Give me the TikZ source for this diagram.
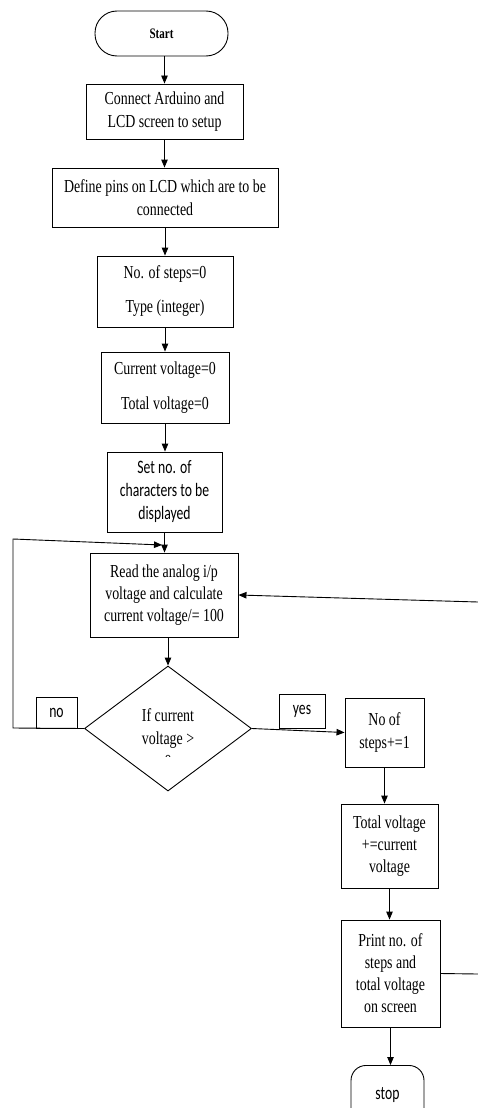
\documentclass[tikz,border=0pt]{standalone}
\usepackage{fontspec}
\setmainfont{Liberation Serif}[FakeStretch=0.76]
\newfontfamily\calfont{Carlito}[FakeStretch=0.72]
\usetikzlibrary{shapes.geometric,arrows.meta}
\tikzset{
  box/.style={draw, line width=0.9pt, inner sep=0pt, align=center, font=\fontsize{18.3}{23}\selectfont},
  boxtight/.style={box, font=\fontsize{18.3}{22}\selectfont},
  calbox/.style={box, font=\calfont\fontsize{19}{23}\selectfont},
  term/.style={draw, line width=0.9pt, inner sep=0pt, rounded corners=22pt, font=\bfseries\fontsize{14.5}{16}\selectfont},
  calterm/.style={draw, line width=0.9pt, inner sep=0pt, rounded corners=15pt, font=\calfont\fontsize{19}{23}\selectfont},
  decision/.style={draw, diamond, line width=0.9pt, inner sep=0pt},
  plaintext/.style={inner sep=0pt, align=center, font=\fontsize{18.3}{23}\selectfont},
  arr/.style={-{Triangle[length=8pt,width=6.5pt]}, line width=0.9pt},
  ln/.style={line width=0.9pt}
}
\begin{document}
\begin{tikzpicture}[x=1pt,y=-1pt]
\useasboundingbox (0,0) rectangle (478,1108);
\clip (0,0) rectangle (478,1108);
\fill[white] (0,0) rectangle (478,1108);

\node[term, minimum width=133pt, minimum height=45pt] (start) at (161.5,33.5) {Start};
\node[box, minimum width=157pt, minimum height=55pt] (connect) at (164.5,111.5) {Connect Arduino and\\LCD screen to setup};
\node[box, minimum width=226pt, minimum height=59pt] (define) at (165,197.5) {Define pins on LCD which are to be\\connected};
\node[box, minimum width=136pt, minimum height=71pt] (steps) at (165,291.5) {No. of steps=0\\[11pt]Type (integer)};
\node[box, minimum width=128pt, minimum height=71pt] (cv) at (165,387.5) {Current voltage=0\\[12pt]Total voltage=0};
\node[calbox, minimum width=115pt, minimum height=80pt] (setno) at (164.5,492) {Set no. of\\characters to be\\displayed};
\node[boxtight, minimum width=148pt, minimum height=84pt] (read) at (164,595) {Read the analog i/p\\voltage and calculate\\current voltage/= 100};
\node[decision, minimum width=167pt, minimum height=125pt] (dec) at (168,728.5) {};
\begin{scope}
  \clip (95,680) rectangle (245,756);
  \node[plaintext] (dectext) at (168,738) {If current\\voltage >\\0};
\end{scope}
\node[calbox, minimum width=41pt, minimum height=31pt] (no) at (56.5,712.5) {no};
\node[calbox, minimum width=46pt, minimum height=34pt] (yes) at (302,711) {yes};
\node[box, minimum width=79pt, minimum height=69pt] (nsteps) at (384.5,732.5) {No of\\steps+=1};
\node[boxtight, minimum width=97pt, minimum height=84pt] (total) at (389.5,846) {Total voltage\\+=current\\voltage};
\node[boxtight, minimum width=99pt, minimum height=107pt] (print) at (390.5,973.5) {Print no. of\\steps and\\total voltage\\on screen};
\node[calterm, minimum width=73pt, minimum height=62pt, anchor=north] (stop) at (387.5,1065) {\raisebox{6pt}{stop}};

\coordinate (loopl) at (13,728);
\coordinate (loopt) at (13,539);
\coordinate (loopin) at (162,545);
\coordinate (redge1) at (478,974);
\coordinate (redge2) at (478,602);

\draw[arr] (connect.north |- start.south) -- (connect.north);
\draw[arr] (connect.south) -- (connect.south |- define.north);
\draw[arr] (define.south) -- (define.south |- steps.north);
\draw[arr] (steps.south) -- (steps.south |- cv.north);
\draw[arr] (cv.south) -- (cv.south |- setno.north);
\draw[arr] (setno.south) -- (setno.south |- read.north);
\draw[arr] (dec.north |- read.south) -- (dec.north);
\draw[arr] (dec.west) -- (loopl) -- (loopt) -- (loopin);
\draw[arr] (dec.east) -- (nsteps.west);
\draw[arr] (nsteps.south) -- (nsteps.south |- total.north);
\draw[arr] (total.south) -- (total.south |- print.north);
\draw[arr] (print.south) -- (print.south |- stop.north);
\draw[ln] (print.east) -- (redge1);
\draw[arr] (redge2) -- (read.east);
\end{tikzpicture}
\end{document}
